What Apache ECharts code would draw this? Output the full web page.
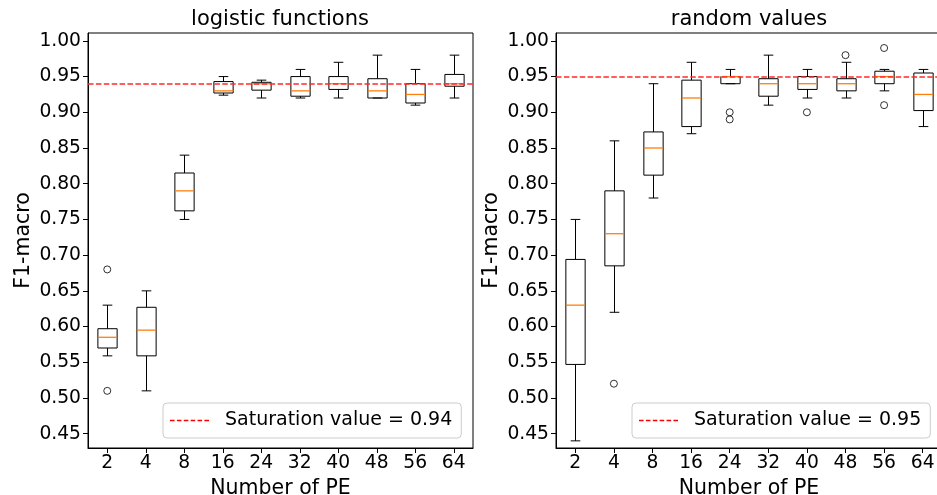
<!DOCTYPE html>
<html>
<head>
<meta charset="utf-8">
<script src="https://cdn.jsdelivr.net/npm/echarts@6/dist/echarts.min.js"></script>
<style>
  html, body { margin: 0; padding: 0; background: #fff; }
  #chart { width: 937px; height: 495px; }
</style>
</head>
<body>
<div id="chart"></div>
<script>
// x categories (number of processing elements)
const peLabels = ['2', '4', '8', '16', '24', '32', '40', '48', '56', '64'];

// box stats per PE: [lower whisker, Q1, median, Q3, upper whisker]
const logisticStats = [
  [0.559, 0.570, 0.585, 0.597, 0.630],
  [0.510, 0.559, 0.595, 0.627, 0.650],
  [0.750, 0.762, 0.790, 0.815, 0.840],
  [0.924, 0.927, 0.930, 0.943, 0.950],
  [0.920, 0.931, 0.940, 0.942, 0.945],
  [0.920, 0.9225, 0.930, 0.950, 0.960],
  [0.920, 0.932, 0.940, 0.950, 0.970],
  [0.920, 0.920, 0.930, 0.947, 0.980],
  [0.910, 0.913, 0.925, 0.940, 0.960],
  [0.920, 0.9365, 0.940, 0.953, 0.980]
];
// outliers: [category index, value]
const logisticOutliers = [[0, 0.68], [0, 0.51]];
const logisticSaturation = 0.94;

const randomStats = [
  [0.440, 0.547, 0.630, 0.694, 0.750],
  [0.620, 0.685, 0.730, 0.790, 0.860],
  [0.780, 0.812, 0.850, 0.8725, 0.940],
  [0.870, 0.880, 0.920, 0.945, 0.970],
  [0.940, 0.940, 0.950, 0.950, 0.960],
  [0.910, 0.9225, 0.940, 0.947, 0.980],
  [0.920, 0.932, 0.940, 0.950, 0.960],
  [0.920, 0.930, 0.940, 0.947, 0.970],
  [0.930, 0.940, 0.950, 0.9575, 0.960],
  [0.880, 0.9024, 0.925, 0.955, 0.960]
];
const randomOutliers = [[1, 0.52], [4, 0.90], [4, 0.89], [6, 0.90], [7, 0.98], [8, 0.99], [8, 0.91]];
const randomSaturation = 0.95;

const yTicks = [0.45, 0.50, 0.55, 0.60, 0.65, 0.70, 0.75, 0.80, 0.85, 0.90, 0.95, 1.00];

const FONT = 'DejaVu Sans';
const chart = echarts.init(document.getElementById('chart'), null, { renderer: 'canvas' });

// dashed line icon for the legend
let dashPath = 'path://';
for (let i = 0; i < 6; i++) {
  const x = i * 6.9;
  dashPath += 'M' + x + ',0h4.6v1.5h-4.6z';
}

// matplotlib-like box: half-width caps, orange median
function renderBox(params, api) {
  const x = api.value(0);
  const low = api.coord([x, api.value(1)]);
  const q1 = api.coord([x, api.value(2)]);
  const med = api.coord([x, api.value(3)]);
  const q3 = api.coord([x, api.value(4)]);
  const high = api.coord([x, api.value(5)]);
  const bw = api.size([1, 0])[0] * 0.5;
  const cx = Math.round(low[0]) + 0.5;
  const black = { stroke: '#000', lineWidth: 1, fill: null };
  return {
    type: 'group',
    children: [
      { type: 'line', shape: { x1: cx, y1: q1[1], x2: cx, y2: low[1] }, style: black },
      { type: 'line', shape: { x1: cx, y1: q3[1], x2: cx, y2: high[1] }, style: black },
      { type: 'line', shape: { x1: cx - bw / 4, y1: low[1], x2: cx + bw / 4, y2: low[1] }, style: black },
      { type: 'line', shape: { x1: cx - bw / 4, y1: high[1], x2: cx + bw / 4, y2: high[1] }, style: black },
      { type: 'rect', shape: { x: cx - bw / 2, y: q3[1], width: bw, height: q1[1] - q3[1] }, style: black },
      { type: 'line', shape: { x1: cx - bw / 2, y1: med[1], x2: cx + bw / 2, y2: med[1] },
        style: { stroke: '#ff7f0e', lineWidth: 1.3 } }
    ]
  };
}

function boxData(stats) {
  return stats.map((s, i) => [i].concat(s));
}

const grids = [
  { left: 88, top: 33, width: 385, height: 415 },
  { left: 556, top: 33, width: 386, height: 415 }
];

function xAxisFor(gi) {
  return {
    type: 'category', gridIndex: gi, data: peLabels, boundaryGap: true,
    name: 'Number of PE', nameLocation: 'middle', nameGap: 27,
    nameTextStyle: { fontFamily: FONT, fontSize: 20.5, color: '#000' },
    axisLine: { show: true, lineStyle: { color: '#000', width: 1 } },
    axisTick: { show: true, alignWithLabel: true, length: 5, lineStyle: { color: '#000' } },
    axisLabel: { fontFamily: FONT, fontSize: 18.7, color: '#000', margin: 6, interval: 0 },
    splitLine: { show: false }
  };
}

function yAxisFor(gi) {
  return {
    type: 'value', gridIndex: gi, min: 0.43, max: 1.011,
    name: 'F1-macro', nameLocation: 'middle', nameGap: 54,
    nameTextStyle: { fontFamily: FONT, fontSize: 20.5, color: '#000' },
    axisLine: { show: true, lineStyle: { color: '#000', width: 1 } },
    axisTick: { show: true, length: 5, customValues: yTicks, lineStyle: { color: '#000' } },
    axisLabel: {
      fontFamily: FONT, fontSize: 18.7, color: '#000', margin: 7,
      customValues: yTicks, formatter: v => v.toFixed(2)
    },
    splitLine: { show: false }
  };
}

function seriesFor(gi, stats, outliers, sat) {
  const satName = 'Saturation value = ' + sat.toFixed(2);
  return [
    {
      type: 'custom', xAxisIndex: gi, yAxisIndex: gi,
      renderItem: renderBox, data: boxData(stats),
      encode: { x: 0, y: [1, 2, 3, 4, 5] }, z: 3, silent: true
    },
    {
      type: 'scatter', xAxisIndex: gi, yAxisIndex: gi,
      data: outliers, symbol: 'circle', symbolSize: 7,
      itemStyle: { color: 'rgba(0,0,0,0)', borderColor: '#000', borderWidth: 1 }, z: 3, silent: true
    },
    {
      type: 'line', name: satName, xAxisIndex: gi, yAxisIndex: gi,
      data: peLabels.map(() => null), showSymbol: false,
      itemStyle: { color: '#ff0000' }, lineStyle: { color: '#ff0000' },
      markLine: {
        silent: true, symbol: ['none', 'none'], label: { show: false },
        lineStyle: { color: '#ff2a2a', type: [5.5, 2.4], width: 1.6 },
        data: [{ yAxis: sat }]
      },
      z: 4
    }
  ];
}

function legendFor(left, sat) {
  return {
    left: left, top: 403, orient: 'horizontal',
    data: [{ name: 'Saturation value = ' + sat.toFixed(2), icon: dashPath }],
    itemWidth: 39, itemHeight: 1.5, symbolKeepAspect: false,
    padding: [7, 9, 7, 7],
    backgroundColor: 'rgba(255,255,255,0.8)', borderColor: '#cccccc', borderWidth: 1, borderRadius: 4,
    textStyle: { fontFamily: FONT, fontSize: 19, color: '#000', lineHeight: 21, padding: [0, 0, 0, 11] },
    selectedMode: false
  };
}

const option = {
  animation: false,
  backgroundColor: '#fff',
  title: [
    { text: 'logistic functions', left: 280, top: 9, textAlign: 'center',
      textStyle: { fontFamily: FONT, fontSize: 21, fontWeight: 'normal', color: '#000' }, padding: 0 },
    { text: 'random values', left: 749, top: 9, textAlign: 'center',
      textStyle: { fontFamily: FONT, fontSize: 21, fontWeight: 'normal', color: '#000' }, padding: 0 }
  ],
  legend: [legendFor(163, logisticSaturation), legendFor(632, randomSaturation)],
  grid: grids.map(g => Object.assign({
    show: true, borderColor: '#000', borderWidth: 1, backgroundColor: 'transparent',
    containLabel: false, outerBoundsMode: 'none'
  }, g)),
  xAxis: [xAxisFor(0), xAxisFor(1)],
  yAxis: [yAxisFor(0), yAxisFor(1)],
  series: [].concat(
    seriesFor(0, logisticStats, logisticOutliers, logisticSaturation),
    seriesFor(1, randomStats, randomOutliers, randomSaturation)
  )
};

chart.setOption(option);
</script>
</body>
</html>
